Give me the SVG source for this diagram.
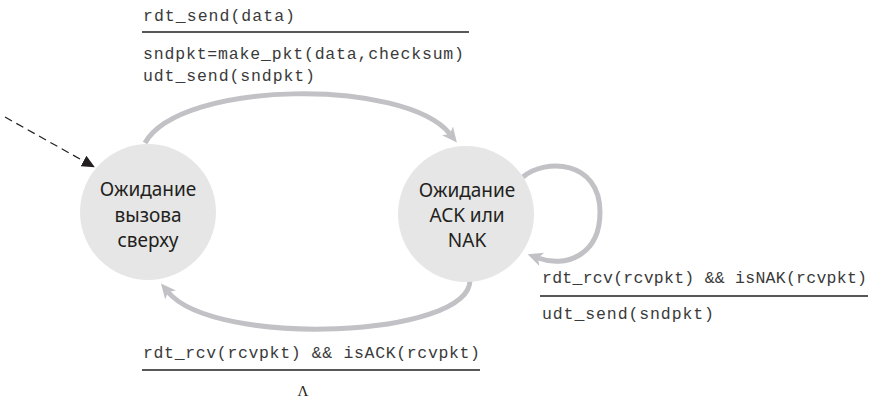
<svg xmlns="http://www.w3.org/2000/svg" width="880" height="398" viewBox="0 0 880 398">
<style>
.state{fill:#e6e6e6}
.st{font-family:"Noto Sans","Open Sans",sans-serif;font-size:19px;fill:#231f20;text-anchor:middle}
.code{font-family:"Liberation Mono","DejaVu Sans Mono",monospace;font-size:16.5px;fill:#3a3a3a}
.rule{stroke:#231f20;stroke-width:1.5}
.edge{fill:none;stroke:#c2c2c6;stroke-width:5}
</style>
<defs>
<marker id="ga" markerUnits="userSpaceOnUse" markerWidth="18" markerHeight="18" viewBox="0 0 18 18" refX="4" refY="9" orient="auto">
<path d="M0,2 L15,9 L0,16 L4,9 z" fill="#c2c2c6"/>
</marker>
<marker id="ba" markerUnits="userSpaceOnUse" markerWidth="14" markerHeight="12" viewBox="0 0 14 12" refX="0" refY="6" orient="auto">
<path d="M0,0 L13,6 L0,12 z" fill="#231f20"/>
</marker>
</defs>
<g id="connectors">
<path d="M5,117 L83.5,161" fill="none" stroke="#231f20" stroke-width="1.2" stroke-dasharray="8,5" marker-end="url(#ba)"/>
<path class="edge" d="M145,143 C180,80 405,78 450,134" marker-end="url(#ga)"/>
<path class="edge" d="M470,280 C470,338 215,348 168,292" marker-end="url(#ga)"/>
<path class="edge" d="M523,177 C545,158 600,160 600,212 C600,256 565,268 538,258" marker-end="url(#ga)"/>
</g>
<g id="node-wait-call">
<circle class="state" cx="148" cy="212" r="68"/>
<text class="st" x="148" y="196">Ожидание</text>
<text class="st" x="148" y="222">вызова</text>
<text class="st" x="148" y="247">сверху</text>
</g>
<g id="node-wait-ack">
<circle class="state" cx="466" cy="214" r="68"/>
<text class="st" x="467" y="197">Ожидание</text>
<text class="st" x="467" y="222">ACK или</text>
<text class="st" x="467" y="247">NAK</text>
</g>
<g id="label-send">
<text class="code" x="143" y="21" textLength="152" lengthAdjust="spacing">rdt_send(data)</text>
<line class="rule" x1="142" y1="32" x2="469" y2="32"/>
<text class="code" x="143" y="59" textLength="321" lengthAdjust="spacing">sndpkt=make_pkt(data,checksum)</text>
<text class="code" x="143" y="81" textLength="172" lengthAdjust="spacing">udt_send(sndpkt)</text>
</g>
<g id="label-nak">
<text class="code" x="542" y="283" textLength="325" lengthAdjust="spacing">rdt_rcv(rcvpkt) &amp;&amp; isNAK(rcvpkt)</text>
<line class="rule" x1="540" y1="296" x2="868" y2="296"/>
<text class="code" x="542" y="319" textLength="172" lengthAdjust="spacing">udt_send(sndpkt)</text>
</g>
<g id="label-ack">
<text class="code" x="143" y="358" textLength="337" lengthAdjust="spacing">rdt_rcv(rcvpkt) &amp;&amp; isACK(rcvpkt)</text>
<line class="rule" x1="142" y1="370" x2="480" y2="370"/>
<text x="303" y="396" font-family="Liberation Serif, serif" font-size="15" fill="#231f20" text-anchor="middle">Λ</text>
</g>
</svg>
